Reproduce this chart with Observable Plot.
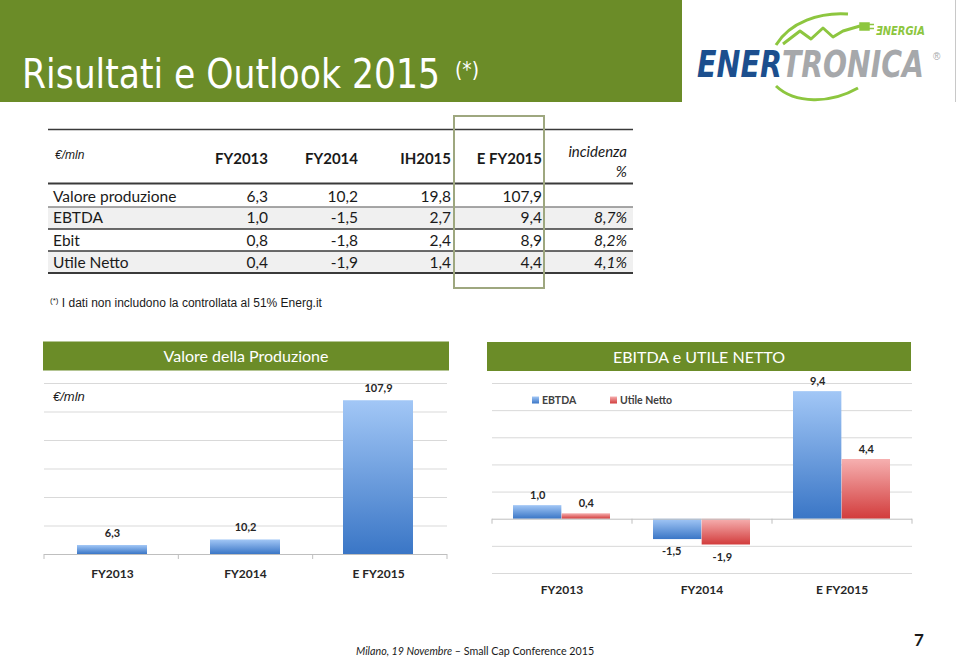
<!DOCTYPE html>
<html>
<head>
<meta charset="utf-8">
<script src="https://cdn.jsdelivr.net/npm/d3@7"></script>
<script src="https://cdn.jsdelivr.net/npm/@observablehq/plot@0.6"></script>
<style>
  html, body { margin: 0; padding: 0; background: #fff; }
  #page { position: relative; width: 960px; height: 659px; overflow: hidden; background: #fff; }
  .abs { position: absolute; }
</style>
</head>
<body>
<div id="page">
  <svg width="0" height="0" style="position:absolute">
    <defs>
      <linearGradient id="gBlue" x1="0" y1="0" x2="0" y2="1">
        <stop offset="0" stop-color="#a2c7f6"/>
        <stop offset="1" stop-color="#3a76c6"/>
      </linearGradient>
      <linearGradient id="gRed" x1="0" y1="0" x2="0" y2="1">
        <stop offset="0" stop-color="#f6b0b0"/>
        <stop offset="1" stop-color="#d23c3c"/>
      </linearGradient>
    </defs>
  </svg>
</div>
<script>
// ---------- DATA ----------
const tableHeaders = ["FY2013", "FY2014", "IH2015", "E FY2015"];
const tableRows = ["Valore produzione", "EBTDA", "Ebit", "Utile Netto"];
const colFY2013 = [6.3, 1.0, 0.8, 0.4];
const colFY2014 = [10.2, -1.5, -1.8, -1.9];
const colIH2015 = [19.8, 2.7, 2.4, 1.4];
const colEFY2015 = [107.9, 9.4, 8.9, 4.4];
const colIncidenza = [null, 8.7, 8.2, 4.1];

const years = ["FY2013", "FY2014", "E FY2015"];
const valoreProduzione = [6.3, 10.2, 107.9];
const ebitda = [1.0, -1.5, 9.4];
const utileNetto = [0.4, -1.9, 4.4];
const leftGridTicks = [20, 40, 60, 80, 100, 120];
const rightGridTicks = [-4, -2, 2, 4, 6, 8, 10];

// ---------- HELPERS ----------
const fmt = v => d3.format(".1f")(v).replace(".", ",").replace("\u2212", "-");
const page = document.getElementById("page");
const GREEN = "#6b8c28";
const FONT = "Lato, 'Open Sans', sans-serif";
const NARROW = "'Liberation Sans Narrow', 'DejaVu Sans Condensed', sans-serif";

function place(node, left, top) {
  const div = document.createElement("div");
  div.className = "abs";
  div.style.left = left + "px";
  div.style.top = top + "px";
  div.appendChild(node);
  page.appendChild(div);
}

function boundaryTicks(plot) {
  const sx = plot.scale("x");
  const n = sx.domain.length;
  const r = sx.range;
  const y0 = plot.scale("y").apply(0);
  d3.select(plot).append("g")
    .selectAll("line").data(d3.range(n + 1)).join("line")
    .attr("x1", i => r[0] + i * (r[1] - r[0]) / n)
    .attr("x2", i => r[0] + i * (r[1] - r[0]) / n)
    .attr("y1", y0).attr("y2", y0 + 5)
    .attr("stroke", "#bfbfbf");
}

const plotStyle = {fontFamily: FONT, fontSize: "12px", fontWeight: "bold", color: "#262626", background: "transparent", overflow: "visible"};

// ---------- LEFT CHART ----------
const leftData = years.map((y, i) => ({year: y, value: valoreProduzione[i]}));
const leftPlot = Plot.plot({
  width: 412, height: 214, marginTop: 13, marginBottom: 30, marginLeft: 4, marginRight: 5,
  style: plotStyle,
  x: {domain: years, paddingInner: 0.47, paddingOuter: 0.24, tickSize: 0, tickPadding: 15, label: null},
  y: {domain: [0, 120], axis: null},
  marks: [
    Plot.ruleY(leftGridTicks, {stroke: "#d9d9d9"}),
    Plot.barY(leftData, {x: "year", y: "value", fill: "url(#gBlue)"}),
    Plot.ruleY([0], {stroke: "#bfbfbf"}),
    Plot.text(leftData, {x: "year", y: "value", text: d => fmt(d.value), dy: -12, fontSize: 11, fontWeight: "bold", fill: "#262626"})
  ]
});
boundaryTicks(leftPlot);
place(leftPlot, 40, 370);

// ---------- RIGHT CHART ----------
const rightData = years.map((y, i) => ({year: y, ebitda: ebitda[i], utile: utileNetto[i]}));
const rW = 428, rML = 4, rMR = 4, rPad = 0.305;
const half = ((rW - rML - rMR) / years.length) * (1 - rPad) / 2;
const rightPlot = Plot.plot({
  width: rW, height: 233, marginTop: 13, marginBottom: 30, marginLeft: rML, marginRight: rMR,
  style: plotStyle,
  x: {domain: years, paddingInner: rPad, paddingOuter: rPad / 2, tickSize: 0, tickPadding: 12, label: null},
  y: {domain: [-4, 10], axis: null},
  marks: [
    Plot.ruleY(rightGridTicks, {stroke: "#d9d9d9"}),
    Plot.barY(rightData, {x: "year", y: "ebitda", fill: "url(#gBlue)", insetRight: half}),
    Plot.barY(rightData, {x: "year", y: "utile", fill: "url(#gRed)", insetLeft: half}),
    Plot.ruleY([0], {stroke: "#bfbfbf"}),
    Plot.text(rightData.filter(d => d.ebitda >= 0), {x: "year", y: "ebitda", text: d => fmt(d.ebitda), dx: -half / 2, dy: -10, fontSize: 11, fontWeight: "bold", fill: "#262626"}),
    Plot.text(rightData.filter(d => d.ebitda < 0), {x: "year", y: "ebitda", text: d => fmt(d.ebitda), dx: -half / 2 - 6, dy: 12, fontSize: 11, fontWeight: "bold", fill: "#262626"}),
    Plot.text(rightData.filter(d => d.utile >= 0), {x: "year", y: "utile", text: d => fmt(d.utile), dx: half / 2, dy: -10, fontSize: 11, fontWeight: "bold", fill: "#262626"}),
    Plot.text(rightData.filter(d => d.utile < 0), {x: "year", y: "utile", text: d => fmt(d.utile), dx: half / 2 - 4, dy: 12, fontSize: 11, fontWeight: "bold", fill: "#262626"})
  ]
});
boundaryTicks(rightPlot);
place(rightPlot, 488, 370);

// ---------- OVERLAY (header, table, captions) ----------
const ov = d3.select(page).append("svg")
  .attr("width", 960).attr("height", 659)
  .style("position", "absolute").style("left", 0).style("top", 0);

// text squeezed horizontally to a target width with a transform
function fitText(parent, str, x, y, target, styles, fill) {
  const t = parent.append("text").attr("x", 0).attr("y", 0).attr("fill", fill).text(str);
  Object.entries(styles).forEach(([k, v]) => t.style(k, v));
  const w = t.node().getComputedTextLength() || target;
  t.attr("transform", `translate(${x},${y}) scale(${target / w},1)`);
  return t;
}

// header band
ov.append("rect").attr("x", 0).attr("y", 0).attr("width", 682).attr("height", 102).attr("fill", GREEN);
fitText(ov, "Risultati e Outlook 2015", 22, 88, 418, {"font-family": NARROW, "font-size": "40px"}, "#fff");
fitText(ov, "(*)", 455, 77, 24, {"font-family": NARROW, "font-size": "22px"}, "#fff");
ov.append("line").attr("x1", 955.5).attr("x2", 955.5).attr("y1", 0).attr("y2", 102).attr("stroke", "#c8c8c8");

// logo
const logo = ov.append("g");
logo.append("path")
  .attr("d", "M776,45 C790,22 820,12 848,14")
  .attr("fill", "none").attr("stroke", "#8dc63f").attr("stroke-width", 3);
logo.append("path")
  .attr("d", "M783,44 L800,31 L811,39 L823,28 L833,37 L843,31 L860,26")
  .attr("fill", "none").attr("stroke", "#8dc63f").attr("stroke-width", 3).attr("stroke-linejoin", "round");
logo.append("path")
  .attr("d", "M860,23 L869,23 L869,30 L860,30 Z M869,24.5 L874,24.5 M869,28.5 L874,28.5")
  .attr("fill", "#8dc63f").attr("stroke", "#8dc63f").attr("stroke-width", 1.5);
logo.append("path")
  .attr("d", "M776,86 C795,104 830,104 858,88")
  .attr("fill", "none").attr("stroke", "#8dc63f").attr("stroke-width", 3);
const logoFont = {"font-family": NARROW, "font-size": "37px", "font-weight": "bold", "font-style": "italic"};
fitText(logo, "\u018ENERGIA", 876, 35, 49, {"font-family": NARROW, "font-size": "13px", "font-weight": "bold", "font-style": "italic"}, "#8dc63f");
fitText(logo, "ENER", 697, 77, 85, logoFont, "#1c4f8e");
fitText(logo, "TRONICA", 782, 77, 142, logoFont, "#a6a8ab");
logo.append("text").attr("x", 933).attr("y", 60).attr("fill", "#a6a8ab")
  .style("font-family", "'Liberation Sans', sans-serif").style("font-size", "10px").text("\u00AE");

// table
const colRight = [268, 358, 451, 542];
const incRight = 627;
const rowBase = [201.7, 223.3, 246, 268.3];
const rowTop = [184, 207, 229, 251];
const rowBottom = [207, 229, 251, 273];
tableRows.forEach((r, i) => {
  if (i % 2 === 1) ov.append("rect").attr("x", 48).attr("y", rowTop[i]).attr("width", 585).attr("height", rowBottom[i] - rowTop[i]).attr("fill", "#f0f0f0");
});
ov.append("line").attr("x1", 48).attr("x2", 633).attr("y1", 129.5).attr("y2", 129.5).attr("stroke", "#3a3a3a").attr("stroke-width", 1.5);
ov.append("line").attr("x1", 48).attr("x2", 633).attr("y1", 183.5).attr("y2", 183.5).attr("stroke", "#3a3a3a").attr("stroke-width", 2);
rowBottom.forEach((b, i) => {
  ov.append("line").attr("x1", 48).attr("x2", 633).attr("y1", b).attr("y2", b)
    .attr("stroke", i === 0 ? "#8a8a8a" : "#3a3a3a").attr("stroke-width", i === 3 ? 2 : 1.5);
});
ov.append("text").attr("x", 55).attr("y", 159).attr("fill", "#1a1a1a")
  .style("font-family", "'Liberation Sans', Arial, sans-serif").style("font-size", "12px").style("font-style", "italic").text("\u20AC/mln");
tableHeaders.forEach((h, j) => {
  ov.append("text").attr("x", colRight[j]).attr("y", 164).attr("text-anchor", "end").attr("fill", "#1a1a1a")
    .style("font-family", FONT).style("font-size", "15px").style("font-weight", "bold").text(h);
});
ov.append("text").attr("x", incRight).attr("y", 156.5).attr("text-anchor", "end").attr("fill", "#1a1a1a")
  .style("font-family", FONT).style("font-size", "15px").style("font-style", "italic").text("incidenza");
ov.append("text").attr("x", incRight).attr("y", 176.5).attr("text-anchor", "end").attr("fill", "#1a1a1a")
  .style("font-family", FONT).style("font-size", "15px").style("font-style", "italic").text("%");
const cols = [colFY2013, colFY2014, colIH2015, colEFY2015];
tableRows.forEach((r, i) => {
  ov.append("text").attr("x", 53).attr("y", rowBase[i]).attr("fill", "#1a1a1a")
    .style("font-family", FONT).style("font-size", "15.5px").text(r);
  cols.forEach((c, j) => {
    ov.append("text").attr("x", colRight[j]).attr("y", rowBase[i]).attr("text-anchor", "end").attr("fill", "#1a1a1a")
      .style("font-family", FONT).style("font-size", "15.5px").text(fmt(c[i]));
  });
  if (colIncidenza[i] != null) {
    ov.append("text").attr("x", incRight).attr("y", rowBase[i]).attr("text-anchor", "end").attr("fill", "#1a1a1a")
      .style("font-family", FONT).style("font-size", "15.5px").style("font-style", "italic").text(fmt(colIncidenza[i]) + "%");
  }
});
ov.append("rect").attr("x", 454).attr("y", 116).attr("width", 90).attr("height", 172)
  .attr("fill", "none").attr("stroke", "#9ea77f").attr("stroke-width", 2);

// footnote
const fn = ov.append("text").attr("x", 50).attr("y", 307).attr("fill", "#1a1a1a")
  .style("font-family", "'Liberation Sans', Arial, sans-serif").style("font-size", "12px");
fn.append("tspan").attr("dy", -4).style("font-size", "8px").text("(*)");
fn.append("tspan").attr("dy", 4).text(" I dati non includono la controllata al 51% Energ.it");

// chart banners
ov.append("rect").attr("x", 43).attr("y", 341.5).attr("width", 406).attr("height", 29).attr("fill", GREEN);
ov.append("text").attr("x", 246).attr("y", 362).attr("text-anchor", "middle").attr("fill", "#fff")
  .style("font-family", FONT).style("font-size", "16px").text("Valore della Produzione");
ov.append("rect").attr("x", 487).attr("y", 342).attr("width", 424).attr("height", 29).attr("fill", GREEN);
ov.append("text").attr("x", 699).attr("y", 362.5).attr("text-anchor", "middle").attr("fill", "#fff")
  .style("font-family", FONT).style("font-size", "16px").text("EBITDA e UTILE NETTO");

// left chart unit
ov.append("text").attr("x", 53).attr("y", 401).attr("fill", "#1a1a1a")
  .style("font-family", "'Liberation Sans', Arial, sans-serif").style("font-size", "13px").style("font-style", "italic").text("\u20AC/mln");

// right chart legend
const legendItems = [{name: "EBTDA", fill: "url(#gBlue)", x: 532}, {name: "Utile Netto", fill: "url(#gRed)", x: 610}];
legendItems.forEach(d => {
  ov.append("rect").attr("x", d.x).attr("y", 396.5).attr("width", 7).attr("height", 7).attr("fill", d.fill);
  ov.append("text").attr("x", d.x + 10).attr("y", 404).attr("fill", "#404040")
    .style("font-family", FONT).style("font-size", "10.5px").style("font-weight", "bold").text(d.name);
});

// footer
const ft = ov.append("text").attr("x", 356).attr("y", 655).attr("fill", "#1a1a1a")
  .style("font-family", FONT).style("font-size", "10.7px");
ft.append("tspan").style("font-style", "italic").text("Milano, 19 Novembre");
ft.append("tspan").text(" \u2013 Small Cap Conference 2015");
ov.append("text").attr("x", 919).attr("y", 646).attr("text-anchor", "middle").attr("fill", "#1a1a1a")
  .style("font-family", FONT).style("font-size", "17px").style("font-weight", "bold").text("7");
</script>
</body>
</html>
